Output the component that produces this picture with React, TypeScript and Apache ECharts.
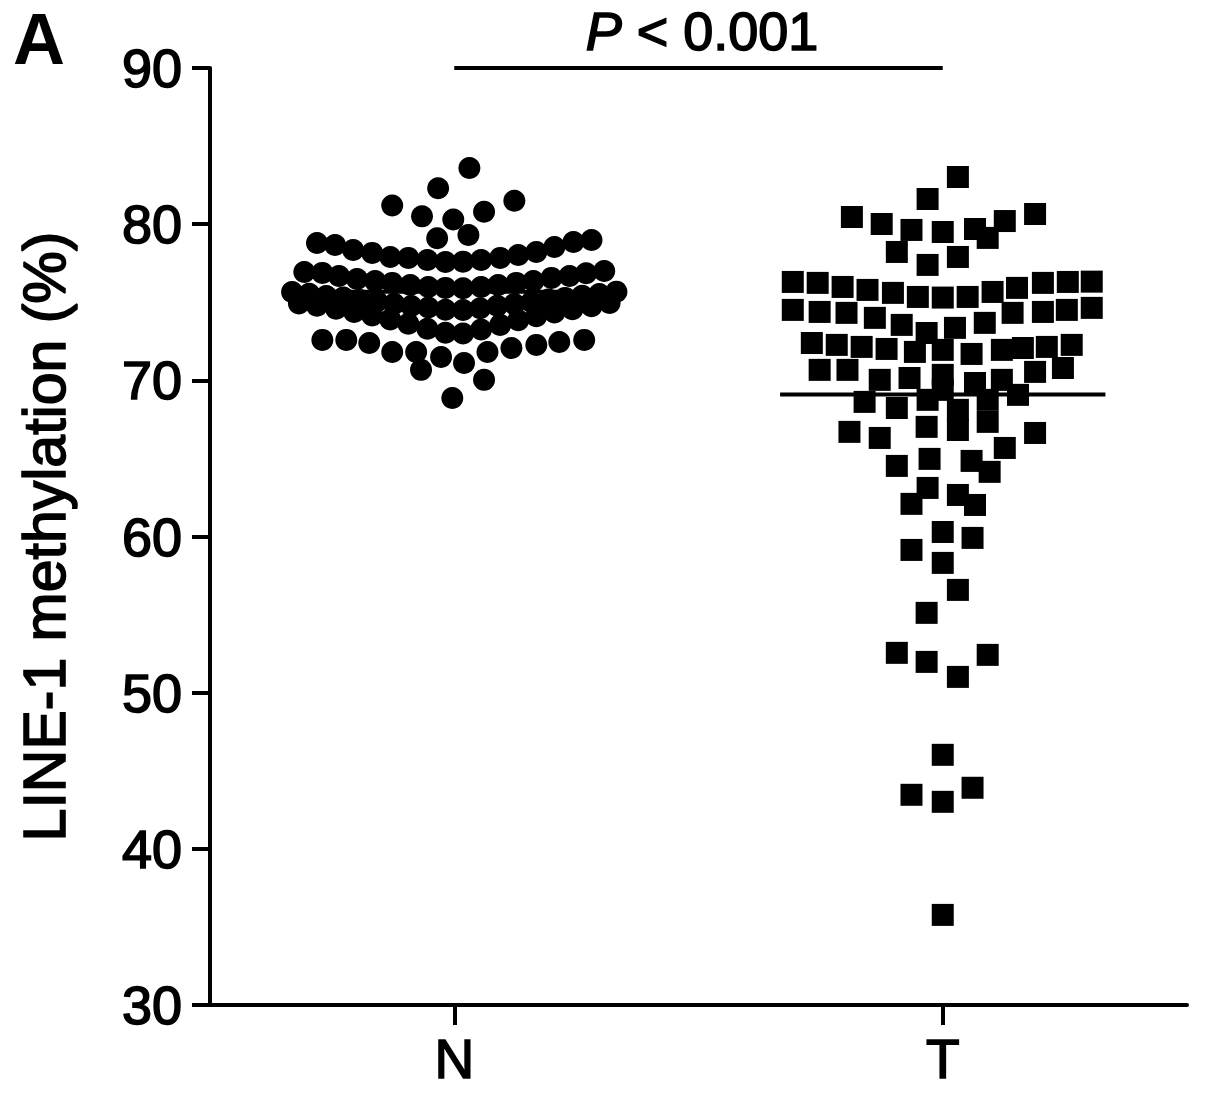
import React, { useEffect, useRef } from "react";
import * as echarts from "echarts";

// Group labels on the x axis
const categories: string[] = ["N", "T"];

// Y axis range / ticks (LINE-1 methylation, %)
const yMin = 30;
const yMax = 90;
const yStep = 10;

// Texts
const yTitle = "LINE-1 methylation (%)";
const panelLabel = "A";
const pItalic = "P";
const pRest = " < 0.001";

// Each point: [lateral jitter within its group (fraction of the group spacing), methylation %]
// N (normal tissue)
const nPoints: [number, number][] = [
  // sparse high values
  [0.031, 83.6], [-0.033, 82.3], [-0.127, 81.2], [0.123, 81.5], [-0.066, 80.5],
  [0.061, 80.8], [-0.002, 80.3], [-0.035, 79.1], [0.029, 79.3],
  // top band
  [-0.281, 78.8], [-0.244, 78.67], [-0.207, 78.35], [-0.168, 78.16], [-0.131, 77.9],
  [-0.094, 77.84], [-0.055, 77.71], [-0.018, 77.58], [0.018, 77.6], [0.055, 77.71],
  [0.094, 77.84], [0.131, 78.03], [0.168, 78.22], [0.205, 78.54], [0.244, 78.86], [0.281, 78.99],
  // second band
  [-0.307, 76.94], [-0.27, 76.88], [-0.236, 76.68], [-0.199, 76.49], [-0.162, 76.36],
  [-0.127, 76.24], [-0.09, 76.11], [-0.053, 75.98], [-0.018, 75.92], [0.018, 75.9],
  [0.055, 75.98], [0.09, 76.11], [0.127, 76.24], [0.162, 76.36], [0.199, 76.56],
  [0.236, 76.68], [0.27, 76.86], [0.307, 77.0],
  // third band
  [-0.332, 75.66], [-0.297, 75.55], [-0.262, 75.4], [-0.227, 75.3], [-0.193, 75.15],
  [-0.158, 75.05], [-0.123, 74.9], [-0.088, 74.76], [-0.053, 74.66], [-0.018, 74.52],
  [0.018, 74.5], [0.053, 74.62], [0.088, 74.78], [0.123, 74.88], [0.158, 75.02],
  [0.193, 75.17], [0.227, 75.28], [0.262, 75.42], [0.297, 75.53], [0.332, 75.68],
  // fourth band
  [-0.318, 74.92], [-0.281, 74.78], [-0.242, 74.58], [-0.205, 74.38], [-0.168, 74.15],
  [-0.131, 73.9], [-0.094, 73.62], [-0.055, 73.3], [-0.018, 73.05], [0.018, 73.0],
  [0.055, 73.25], [0.094, 73.55], [0.131, 73.85], [0.168, 74.1], [0.205, 74.35],
  [0.242, 74.55], [0.281, 74.75], [0.318, 74.95],
  // lower band
  [-0.27, 72.59], [-0.221, 72.59], [-0.174, 72.39], [-0.127, 71.82], [-0.078, 71.82],
  [-0.027, 71.5], [0.02, 71.11], [0.068, 71.82], [0.117, 72.07], [0.168, 72.27],
  [0.215, 72.46], [0.266, 72.59],
  // low values
  [-0.068, 70.67], [0.061, 70.03], [-0.004, 68.87],
];

// T (tumour tissue)
const tPoints: [number, number][] = [
  // sparse high values
  [0.031, 83.02], [-0.031, 81.61], [-0.186, 80.46], [0.189, 80.65], [-0.125, 80.01],
  [-0.064, 79.63], [0.0, 79.5], [0.066, 79.69], [0.127, 80.2], [-0.094, 78.22],
  [0.092, 79.12], [0.031, 77.9], [-0.031, 77.39],
  // band ~76
  [-0.307, 76.3], [-0.256, 76.24], [-0.205, 75.98], [-0.154, 75.79], [-0.102, 75.6],
  [-0.051, 75.34], [0.0, 75.3], [0.051, 75.34], [0.102, 75.66], [0.152, 75.92],
  [0.205, 76.24], [0.256, 76.3], [0.305, 76.32],
  // band ~74
  [-0.307, 74.51], [-0.252, 74.38], [-0.197, 74.32], [-0.139, 74.0], [-0.084, 73.55],
  [-0.033, 73.03], [0.025, 73.36], [0.086, 73.68], [0.143, 74.32], [0.205, 74.38],
  [0.254, 74.51], [0.305, 74.64],
  // band ~72
  [-0.268, 72.39], [-0.217, 72.27], [-0.166, 72.14], [-0.115, 72.01], [-0.057, 71.82],
  [0.0, 71.95], [0.059, 71.69], [0.121, 71.95], [0.164, 72.07], [0.213, 72.14], [0.264, 72.27],
  // band ~70
  [-0.252, 70.67], [-0.195, 70.67], [-0.129, 70.03], [-0.068, 70.15], [0.0, 70.35],
  [0.066, 69.83], [0.121, 70.03], [0.189, 70.54], [0.246, 70.79],
  // band ~68.5
  [-0.16, 68.62], [-0.094, 68.23], [-0.031, 68.75], [0.0, 69.39], [0.031, 68.11],
  [0.092, 68.75], [0.154, 69.07],
  // band ~67
  [-0.191, 66.7], [-0.129, 66.31], [-0.033, 67.02], [0.031, 66.82], [0.092, 67.34], [0.189, 66.63],
  // band ~65
  [-0.094, 64.52], [-0.027, 64.97], [0.059, 64.84], [0.096, 64.14], [0.127, 65.67],
  // band ~62.5
  [-0.031, 63.11], [-0.064, 62.09], [0.031, 62.66], [0.066, 62.02],
  // tail
  [0.0, 60.29], [0.061, 59.91], [-0.064, 59.14], [0.0, 58.31], [0.031, 56.58],
  [-0.033, 55.11], [-0.094, 52.55], [-0.033, 51.97], [0.092, 52.42], [0.031, 51.01],
  [0.0, 46.02], [-0.064, 43.46], [0.0, 43.01], [0.061, 43.91], [0.0, 35.77],
];

const FONT = "'Liberation Sans', Arial, Helvetica, sans-serif";

export default function App() {
  const ref = useRef<HTMLDivElement>(null);

  useEffect(() => {
    if (!ref.current) return;
    const chart = echarts.init(ref.current, null, { renderer: "svg" });

    const groupPos = (i: number) => i + 1;
    const toXY = (pts: [number, number][], g: number) =>
      pts.map(([off, v]) => [groupPos(g) + off, v]);
    const mean = (pts: [number, number][]) =>
      pts.reduce((s, p) => s + p[1], 0) / pts.length;
    const nMean = mean(nPoints);
    const tMean = mean(tPoints);
    const halfW = 0.333;

    const black = "#000";
    const lineW = 4;
    const heavy = { textBorderColor: black, textBorderWidth: 1.6 };

    chart.setOption({
      animation: false,
      textStyle: { fontFamily: FONT, color: black },
      grid: { left: 210, right: 18, top: 68, bottom: 92, containLabel: false },
      xAxis: {
        type: "value",
        min: 0.5,
        max: 2.5,
        splitLine: { show: false },
        axisLine: { show: true, onZero: false, lineStyle: { color: black, width: lineW } },
        axisTick: {
          show: true,
          customValues: [1, 2],
          length: 20,
          lineStyle: { color: black, width: lineW },
        },
        axisLabel: {
          customValues: [1, 2],
          formatter: (v: number) => categories[Math.round(v) - 1] ?? "",
          fontSize: 55,
          fontFamily: FONT,
          color: black,
          margin: 26,
          ...heavy,
        },
      },
      yAxis: {
        type: "value",
        min: yMin,
        max: yMax,
        interval: yStep,
        name: yTitle,
        nameLocation: "middle",
        nameRotate: 90,
        nameGap: 136,
        nameTextStyle: { fontSize: 59, fontFamily: FONT, color: black, ...heavy },
        splitLine: { show: false },
        axisLine: { show: true, onZero: false, lineStyle: { color: black, width: lineW } },
        axisTick: { show: true, length: 18, lineStyle: { color: black, width: lineW } },
        axisLabel: { fontSize: 54, fontFamily: FONT, color: black, margin: 28, ...heavy },
      },
      graphic: [
        {
          type: "text",
          x: 39,
          y: 39,
          style: {
            text: panelLabel,
            font: `bold 72px ${FONT}`,
            fill: black,
            align: "center",
            verticalAlign: "middle",
          },
        },
        {
          type: "text",
          x: 702,
          y: 31,
          style: {
            text: `{i|${pItalic}}{r|${pRest}}`,
            align: "center",
            verticalAlign: "middle",
            rich: {
              i: { fontSize: 54, fontFamily: FONT, fontStyle: "italic", fill: black, stroke: black, lineWidth: 1.6 },
              r: { fontSize: 54, fontFamily: FONT, fill: black, stroke: black, lineWidth: 1.6 },
            },
          },
        },
      ],
      series: [
        {
          name: categories[0],
          type: "scatter",
          symbol: "circle",
          symbolSize: 22,
          itemStyle: { color: black, opacity: 1 },
          data: toXY(nPoints, 0),
          z: 3,
        },
        {
          name: categories[1],
          type: "scatter",
          symbol: "rect",
          symbolSize: 22,
          itemStyle: { color: black, opacity: 1 },
          data: toXY(tPoints, 1),
          z: 3,
        },
        {
          name: "N mean",
          type: "line",
          symbol: "none",
          lineStyle: { color: black, width: lineW },
          data: [
            [groupPos(0) - halfW, nMean],
            [groupPos(0) + halfW, nMean],
          ],
          z: 4,
        },
        {
          name: "T mean",
          type: "line",
          symbol: "none",
          lineStyle: { color: black, width: lineW },
          data: [
            [groupPos(1) - halfW, tMean],
            [groupPos(1) + halfW, tMean],
          ],
          z: 4,
        },
        {
          name: "comparison",
          type: "line",
          symbol: "none",
          clip: false,
          lineStyle: { color: black, width: lineW },
          data: [
            [groupPos(0), yMax],
            [groupPos(1), yMax],
          ],
          z: 4,
        },
      ],
    });

    return () => chart.dispose();
  }, []);

  return (
    <div
      ref={ref}
      style={{ position: "absolute", left: 0, top: 0, width: 1205, height: 1097, background: "#fff" }}
    />
  );
}
